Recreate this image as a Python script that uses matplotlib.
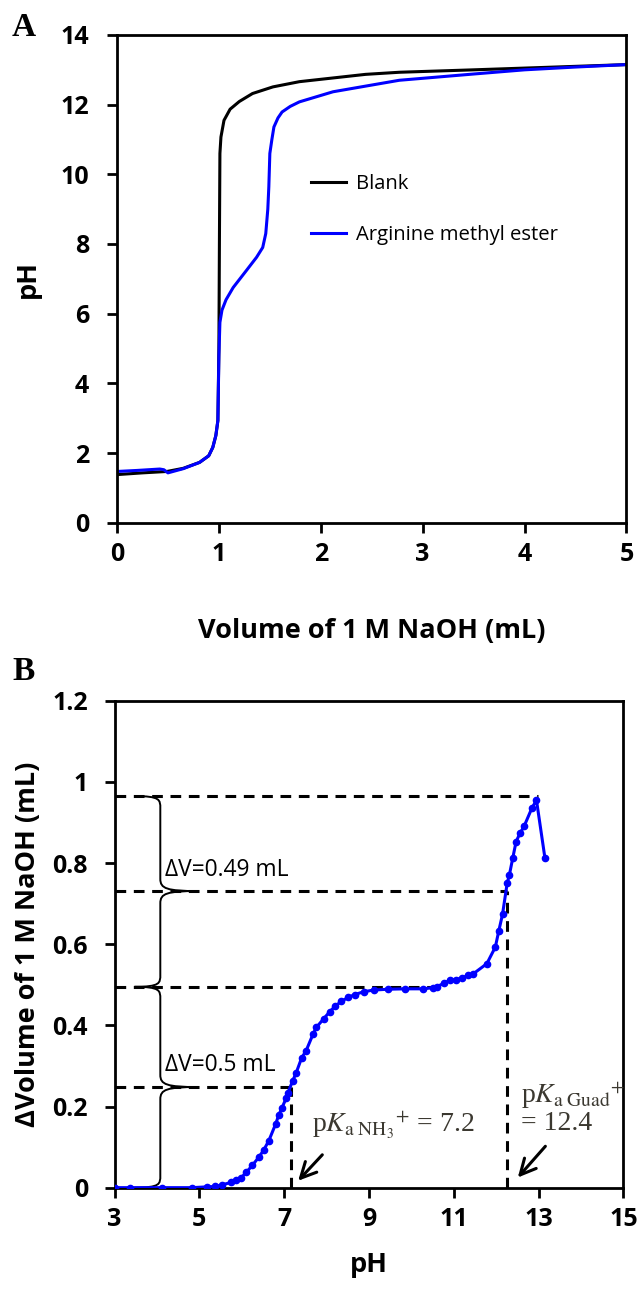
import matplotlib
matplotlib.use('Agg')
import matplotlib.pyplot as plt
from matplotlib.path import Path
from matplotlib.patches import PathPatch
from matplotlib.ticker import FuncFormatter

plt.rcParams['font.family'] = ['Open Sans', 'DejaVu Sans']
plt.rcParams['mathtext.fontset'] = 'stix'

# Panel A: titration curves
blank_vol = [0, 0.25, 0.49, 0.65, 0.81, 0.9, 0.94, 0.97, 0.99, 1.0, 1.005, 1.01,
             1.02, 1.05, 1.11, 1.2, 1.33, 1.53, 1.79, 2.44, 2.77, 3.5, 4.0, 4.5, 5.0]
blank_ph = [1.38, 1.43, 1.47, 1.56, 1.73, 1.92, 2.16, 2.5, 2.93, 5.0, 8.0, 10.6,
            11.07, 11.55, 11.87, 12.09, 12.32, 12.51, 12.66, 12.87, 12.93, 13.0, 13.05, 13.1, 13.15]

arg_vol = [0, 0.2, 0.42, 0.46, 0.5, 0.65, 0.81, 0.9, 0.94, 0.97, 0.99, 1.0, 1.01, 1.03,
           1.07, 1.14, 1.27, 1.37, 1.43, 1.46, 1.48, 1.49, 1.5, 1.52, 1.54, 1.58, 1.62,
           1.7, 1.79, 2.12, 2.77, 3.5, 4.0, 4.5, 5.0]
arg_ph = [1.47, 1.5, 1.54, 1.52, 1.43, 1.55, 1.73, 1.92, 2.16, 2.5, 2.93, 4.8, 5.75, 6.1,
          6.4, 6.75, 7.24, 7.62, 7.9, 8.3, 9.0, 9.64, 10.6, 11.0, 11.36, 11.62, 11.79,
          11.95, 12.08, 12.37, 12.7, 12.88, 13.0, 13.08, 13.15]

# Panel B: delta volume vs pH
ph_b = [3.0, 3.37, 4.12, 4.83, 5.18, 5.38, 5.54, 5.75, 5.87, 5.99, 6.11, 6.25, 6.41,
        6.52, 6.64, 6.80, 6.87, 6.95, 7.05, 7.09, 7.20, 7.28, 7.41, 7.52, 7.68, 7.76,
        7.93, 8.07, 8.21, 8.35, 8.51, 8.67, 8.88, 9.11, 9.45, 9.85, 10.28, 10.52, 10.60,
        10.77, 10.91, 11.05, 11.19, 11.34, 11.46, 11.78, 11.98, 12.06, 12.15, 12.26,
        12.31, 12.39, 12.47, 12.56, 12.66, 12.84, 12.95, 13.15]
dv_b = [0, 0, 0, 0, 0.002, 0.003, 0.007, 0.013, 0.019, 0.025, 0.038, 0.055, 0.076,
        0.093, 0.116, 0.157, 0.178, 0.197, 0.221, 0.234, 0.263, 0.282, 0.319, 0.338,
        0.378, 0.395, 0.416, 0.433, 0.448, 0.459, 0.469, 0.476, 0.483, 0.487, 0.489,
        0.490, 0.490, 0.493, 0.495, 0.504, 0.511, 0.513, 0.516, 0.524, 0.527, 0.552,
        0.593, 0.632, 0.674, 0.751, 0.770, 0.812, 0.853, 0.873, 0.891, 0.935, 0.955, 0.812]

# equivalence levels and pKa positions
levels = [0.965, 0.731, 0.495, 0.248]
level_ends = [12.98, 12.25, 10.5, 7.15]
pka_nh3 = 7.15
pka_guad = 12.25

fig = plt.figure(figsize=(6.39, 12.96), dpi=100)
axA = fig.add_axes([0.1831, 0.5967, 0.7973, 0.3763])
axB = fig.add_axes([0.1792, 0.0836, 0.7964, 0.3757])

for ax in (axA, axB):
    for s in ax.spines.values():
        s.set_linewidth(2)
    ax.tick_params(direction='out', length=7, width=2, top=False, right=False,
                   labelsize=18, pad=7)

# ---- panel A ----
axA.plot(blank_vol, blank_ph, color='black', lw=2.2, label='Blank')
axA.plot(arg_vol, arg_ph, color='#0000ff', lw=2.2, label='Arginine methyl ester')
axA.set_xlim(0, 5)
axA.set_ylim(0, 14)
axA.set_xticks(range(0, 6))
axA.set_yticks(range(0, 15, 2))
axA.tick_params(axis='y', pad=13)
axA.set_xlabel('Volume of 1 M NaOH (mL)', fontsize=19.5, fontweight='bold', va='center')
axA.xaxis.set_label_coords(0.5, -0.222)
axA.set_ylabel('pH', fontsize=19.5, fontweight='bold', va='center')
axA.yaxis.set_label_coords(-0.175, 0.5)
axA.legend(loc='center left', bbox_to_anchor=(0.381, 0.642), frameon=False,
           fontsize=14.6, handlelength=1.7, handletextpad=0.5, labelspacing=1.5,
           borderpad=0, borderaxespad=0)
for t in axA.get_xticklabels() + axA.get_yticklabels():
    t.set_fontweight('bold')

# ---- panel B ----
for lv, xe in zip(levels, level_ends):
    axB.plot([3, xe], [lv, lv], color='black', lw=2.2, dashes=(3.5, 2.5))
axB.plot([pka_nh3, pka_nh3], [0, levels[3]], color='black', lw=2.2, dashes=(3.5, 2.5))
axB.plot([pka_guad, pka_guad], [0, levels[1]], color='black', lw=2.2, dashes=(3.5, 2.5))

axB.plot(ph_b, dv_b, color='#0000ff', lw=2.2, marker='o', markersize=4.5, zorder=3)


def brace(ax, y0, y1, ymid, xs=4.08, xe=3.47, xt=4.98, r=0.03):
    verts = [(xe, y0), (xs, y0), (xs, y0 + r * 0.3), (xs, y0 + r),
             (xs, ymid - r),
             (xs, ymid - r * 0.2), (xs + 0.15, ymid), (xt, ymid),
             (xs + 0.15, ymid), (xs, ymid + r * 0.2), (xs, ymid + r),
             (xs, y1 - r),
             (xs, y1 - r * 0.3), (xs, y1), (xe, y1)]
    codes = [Path.MOVETO, Path.CURVE4, Path.CURVE4, Path.CURVE4,
             Path.LINETO,
             Path.CURVE4, Path.CURVE4, Path.CURVE4,
             Path.CURVE4, Path.CURVE4, Path.CURVE4,
             Path.LINETO,
             Path.CURVE4, Path.CURVE4, Path.CURVE4]
    ax.add_patch(PathPatch(Path(verts, codes), fill=False, lw=1.4, color='black'))


brace(axB, 0.0, levels[2], levels[3])
brace(axB, levels[2], levels[0], levels[1])

axB.text(4.2, 0.782, '\u0394V=0.49 mL', fontsize=16.4, va='center', ha='left')
axB.text(4.2, 0.302, '\u0394V=0.5 mL', fontsize=16.4, va='center', ha='left')

serif = ['Liberation Serif', 'DejaVu Serif']
axB.text(7.66, 0.153, r'p$\mathit{K}_{\mathrm{a\ NH_3}}{}^{+}$ = 7.2', fontsize=20,
         family=serif, color='#3b3830', va='center', ha='left')
axB.text(12.59, 0.228, r'p$\mathit{K}_{\mathrm{a\ Guad}}{}^{+}$', fontsize=20,
         family=serif, color='#3b3830', va='center', ha='left')
axB.text(12.59, 0.157, '= 12.4', fontsize=20, family=serif, color='#3b3830',
         va='center', ha='left')

arrow = dict(arrowstyle='->', lw=2.2, color='black', mutation_scale=28,
             shrinkA=0, shrinkB=0)
axB.annotate('', xy=(7.33, 0.017), xytext=(7.9, 0.081), arrowprops=arrow)
axB.annotate('', xy=(12.51, 0.025), xytext=(13.16, 0.102), arrowprops=arrow)

axB.set_xlim(3, 15)
axB.set_ylim(0, 1.2)
axB.set_xticks(range(3, 16, 2))
axB.set_yticks([0, 0.2, 0.4, 0.6, 0.8, 1.0, 1.2])
axB.yaxis.set_major_formatter(FuncFormatter(lambda v, p: '%g' % round(v, 2)))
axB.tick_params(axis='y', pad=12)
axB.set_xlabel('pH', fontsize=19.5, fontweight='bold', va='center')
axB.xaxis.set_label_coords(0.5, -0.159)
axB.set_ylabel('\u0394Volume of 1 M NaOH (mL)', fontsize=19.5, fontweight='bold', va='center')
axB.yaxis.set_label_coords(-0.17, 0.5)
for t in axB.get_xticklabels() + axB.get_yticklabels():
    t.set_fontweight('bold')

fig.text(12 / 639, 1 - 28 / 1296, 'A', fontsize=24, fontweight='bold',
         family=serif, va='center', ha='left')
fig.text(12 / 639, 1 - 672 / 1296, 'B', fontsize=24, fontweight='bold',
         family=serif, va='center', ha='left')

fig.savefig('out.png', dpi=100)
